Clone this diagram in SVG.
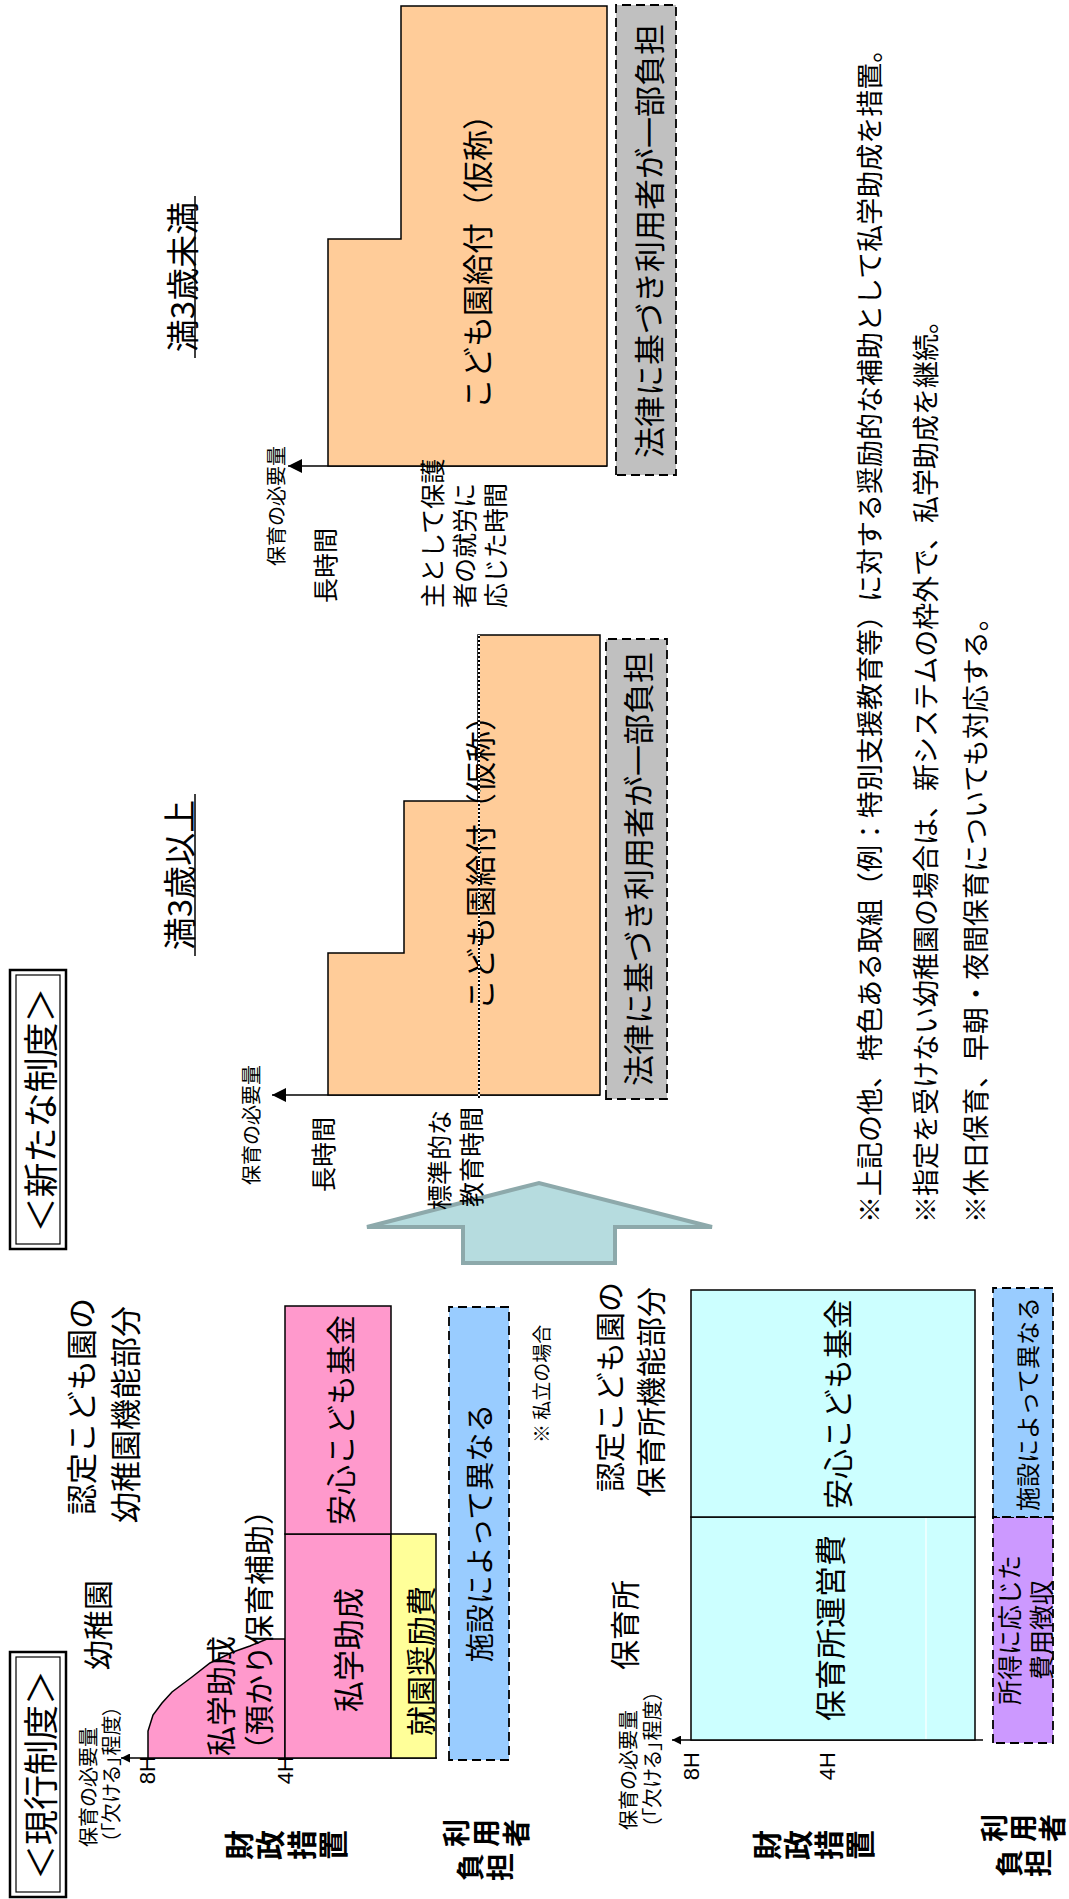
<svg xmlns="http://www.w3.org/2000/svg" width="1069" height="1899" viewBox="0 0 1069 1899">
<defs>
<style>
text { font-family: "Noto Sans CJK JP", "Noto Sans", sans-serif; fill: #000; dominant-baseline: central; }
.c { text-anchor: middle; }
.e { text-anchor: end; }
.b { font-weight: bold; }
.palt { font-feature-settings: "palt"; }
.num { font-family: "Liberation Sans", Arial, sans-serif; font-size: 22px; }
.f20 { font-size: 20px; } .f19 { font-size: 19px; }
.f24 { font-size: 24px; } .f25 { font-size: 25px; }
.f27 { font-size: 27px; } .f28 { font-size: 28px; }
.f29 { font-size: 29px; } .f30 { font-size: 30px; }
.f31 { font-size: 31px; } .f33 { font-size: 33px; } .f35 { font-size: 35px; }
.box { stroke: #000; stroke-width: 1.5; }
.dash { stroke: #000; stroke-width: 1.8; stroke-dasharray: 9 5; }
.axis { stroke: #000; stroke-width: 1.5; fill: none; }
.pink { fill: #FF99CC; } .yellow { fill: #FFFF99; } .blue { fill: #99CCFF; }
.cyan { fill: #CCFFFF; } .orange { fill: #FFCC99; } .gray { fill: #C0C0C0; } .purple { fill: #CC99FF; }
</style>
<marker id="ahS" viewBox="0 0 10 10" refX="10" refY="5" markerWidth="10" markerHeight="9" orient="auto" markerUnits="userSpaceOnUse">
<path d="M0,0 L10,5 L0,10 Z" fill="#000"/>
</marker>
<marker id="ahL" viewBox="0 0 10 10" refX="10" refY="5" markerWidth="14" markerHeight="15" orient="auto" markerUnits="userSpaceOnUse">
<path d="M0,0 L10,5 L0,10 Z" fill="#000"/>
</marker>
</defs>
<rect x="0" y="0" width="1069" height="1899" fill="#fff"/>
<g transform="translate(0,1899) rotate(-90)">

<g id="connectors">
<line class="axis" x1="141" y1="437" x2="141" y2="121" marker-end="url(#ahS)"/>
<line class="axis" x1="159" y1="983" x2="159" y2="672" marker-end="url(#ahS)"/>
<line class="axis" x1="804" y1="600" x2="804" y2="272" marker-end="url(#ahL)"/>
<line class="axis" x1="1433" y1="607" x2="1433" y2="288" marker-end="url(#ahL)"/>
</g>

<g id="title-current">
<rect x="2" y="10" width="245" height="56" fill="#fff" stroke="#000" stroke-width="2.5"/>
<rect x="7" y="16" width="235" height="44" fill="none" stroke="#000" stroke-width="1.2"/>
<text class="c f35" x="124" y="38">＜現行制度＞</text>
</g>

<g id="title-new">
<rect x="650" y="10" width="279" height="56" fill="#fff" stroke="#000" stroke-width="2.5"/>
<rect x="655" y="16" width="269" height="44" fill="none" stroke="#000" stroke-width="1.2"/>
<text class="c f35" x="789" y="38">＜新たな制度＞</text>
</g>

<g id="kindergarten-labels">
<text class="f20" x="52" y="87">保育の必要量</text>
<text class="f20 palt" x="56" y="110">（「欠ける」程度）</text>
<text class="f30" x="229" y="96">幼稚園</text>
<text class="f31" x="384" y="79">認定こども園の</text>
<text class="f31" x="376" y="123">幼稚園機能部分</text>
<text class="num e" x="143" y="147">8H</text>
<text class="num e" x="143" y="285">4H</text>
<text class="f19" x="456" y="540">※ 私立の場合</text>
</g>

<g id="kg-azukari">
<path class="pink box" d="M141,285 V148 H168 L184,153 L196,162 L207,172 L222,192 L236,210 L247,233 L253,250 L260,267 V285 Z"/>
<text class="f30" x="143" y="219">私学助成</text>
<text class="f30" x="134" y="257">（預かり保育補助）</text>
</g>

<g id="kg-shigaku">
<rect class="pink box" x="141" y="285" width="224" height="106"/>
<text class="c f31" x="249" y="346">私学助成</text>
</g>

<g id="kg-anshin">
<rect class="pink box" x="365" y="285" width="228" height="106"/>
<text class="c f30" x="479" y="339">安心こども基金</text>
</g>

<g id="kg-shuen">
<rect class="yellow box" x="141" y="391" width="224" height="45"/>
<text class="c f30" x="238" y="419">就園奨励費</text>
</g>

<g id="kg-user">
<rect class="blue dash" x="139" y="449" width="453" height="60"/>
<text class="c f29" x="366" y="478">施設によって異なる</text>
</g>

<g id="kg-zaisei">
<text class="c b f30" x="54" y="237">財</text>
<text class="c b f30" x="54" y="268">政</text>
<text class="c b f30" x="54" y="300">措</text>
<text class="c b f30" x="54" y="331">置</text>
</g>
<g id="kg-riyousha">
<text class="c b f28" x="66" y="455">利</text>
<text class="c b f28" x="66" y="485">用</text>
<text class="c b f28" x="66" y="515">者</text>
<text class="c b f28" x="32" y="469">負</text>
<text class="c b f28" x="32" y="499">担</text>
</g>

<g id="nursery-labels">
<text class="f20" x="69" y="627">保育の必要量</text>
<text class="f20 palt" x="71" y="651">（「欠ける」程度）</text>
<text class="f30" x="229" y="623">保育所</text>
<text class="f30" x="407" y="608">認定こども園の</text>
<text class="f30" x="402" y="649">保育所機能部分</text>
<text class="num e" x="147" y="691">8H</text>
<text class="num e" x="147" y="827">4H</text>
</g>

<g id="ns-unei">
<rect class="cyan box" x="159" y="691" width="223" height="284"/>
<line x1="160" y1="926" x2="381" y2="926" stroke="#fff" stroke-width="1.2"/>
<text class="c f31" x="271" y="828">保育所運営費</text>
</g>

<g id="ns-anshin">
<rect class="cyan box" x="382" y="691" width="227" height="284"/>
<text class="c f30" x="495" y="836">安心こども基金</text>
</g>

<g id="ns-fee">
<rect class="purple dash" x="156" y="993" width="226" height="60"/>
<text class="c f25" x="269" y="1008">所得に応じた</text>
<text class="c f25" x="269" y="1040">費用徴収</text>
</g>

<g id="ns-user">
<rect class="blue dash" x="382" y="993" width="229" height="60"/>
<text class="c f24" x="495" y="1026">施設によって異なる</text>
</g>

<g id="ns-zaisei">
<text class="c b f30" x="54" y="765">財</text>
<text class="c b f30" x="54" y="796">政</text>
<text class="c b f30" x="54" y="827">措</text>
<text class="c b f30" x="54" y="858">置</text>
</g>
<g id="ns-riyousha">
<text class="c b f28" x="71" y="993">利</text>
<text class="c b f28" x="71" y="1022">用</text>
<text class="c b f28" x="71" y="1051">者</text>
<text class="c b f28" x="36" y="1008">負</text>
<text class="c b f28" x="36" y="1037">担</text>
</g>

<g id="big-arrow">
<polygon points="636,463 672,463 672,367 716,539 672,712 672,615 636,615" fill="#B6DCDF" stroke="#8DA9AB" stroke-width="4" stroke-linejoin="miter"/>
</g>

<g id="over3">
<text class="c f33" x="1024" y="178">満3歳以上</text>
<line x1="943" y1="195" x2="1105" y2="195" stroke="#000" stroke-width="1.5"/>
<text class="f20" x="714" y="250">保育の必要量</text>
<text class="f25" x="707" y="322">長時間</text>
<text class="f25" x="689" y="438">標準的な</text>
<text class="f25" x="692" y="470">教育時間</text>
<polygon class="orange box" points="1264,478 1264,600 804,600 804,328 946,328 946,404 1098,404 1098,478"/>
<text class="c f31" x="1044" y="478">こども園給付（仮称）</text>
<line x1="801" y1="479" x2="1264" y2="479" stroke="#fff" stroke-width="2"/>
<line x1="801" y1="479" x2="1264" y2="479" stroke="#000" stroke-width="2" stroke-dasharray="2 2"/>
</g>

<g id="over3-user">
<rect class="gray dash" x="800" y="606" width="460" height="61"/>
<text class="c f31" x="1030" y="636">法律に基づき利用者が一部負担</text>
</g>

<g id="under3">
<text class="c f33" x="1622" y="181">満3歳未満</text>
<line x1="1541" y1="195" x2="1703" y2="195" stroke="#000" stroke-width="1.5"/>
<text class="f20" x="1333" y="275">保育の必要量</text>
<text class="f25" x="1296" y="324">長時間</text>
<polygon class="orange box" points="1893,401 1893,607 1433,607 1433,328 1660,328 1660,401"/>
<text class="c f31" x="1645" y="475">こども園給付（仮称）</text>
<text class="f25" x="1291" y="431">主として保護</text>
<text class="f25" x="1291" y="463">者の就労に</text>
<text class="f25" x="1291" y="494">応じた時間</text>
</g>

<g id="under3-user">
<rect class="gray dash" x="1424" y="616" width="470" height="60"/>
<text class="c f31" x="1658" y="647">法律に基づき利用者が一部負担</text>
</g>

<g id="notes">
<text class="f27" x="676" y="868">※上記の他、特色ある取組（例：特別支援教育等）に対する奨励的な補助として私学助成を措置。</text>
<text class="f27" x="676" y="924">※指定を受けない幼稚園の場合は、新システムの枠外で、私学助成を継続。</text>
<text class="f27" x="676" y="974">※休日保育、早朝・夜間保育についても対応する。</text>
</g>

</g>
</svg>
